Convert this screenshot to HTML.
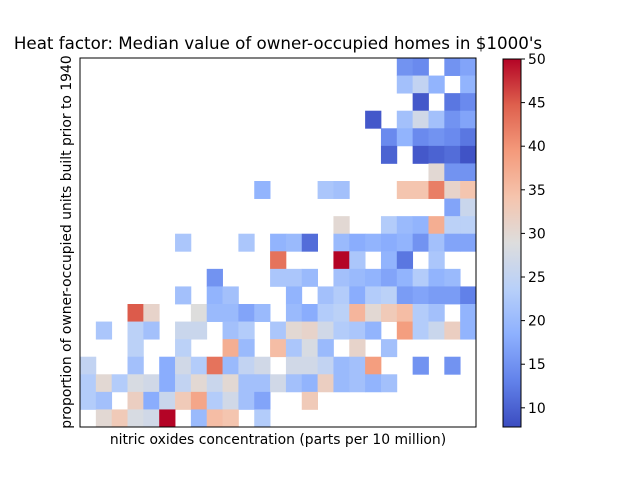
<!DOCTYPE html>
<html><head><meta charset="utf-8"><style>
body{margin:0;background:#fff;}
svg{display:block;font-family:"DejaVu Sans","Liberation Sans",sans-serif;}
</style></head><body>
<svg id="chart" width="640" height="480" viewBox="0 0 640 480">
<text x="278" y="49" text-anchor="middle" font-size="16.7" fill="#000">Heat factor: Median value of owner-occupied homes in $1000's</text>
<g id="cells"></g>
<rect x="80" y="58" width="396" height="369" fill="none" stroke="#000" stroke-width="1"/>
<text x="278" y="444" text-anchor="middle" font-size="13.9" fill="#000">nitric oxides concentration (parts per 10 million)</text>
<text transform="translate(71,242) rotate(-90)" text-anchor="middle" font-size="13.9" fill="#000">proportion of owner-occupied units built prior to 1940</text>
<defs><linearGradient id="cg" x1="0" y1="1" x2="0" y2="0"></linearGradient></defs>
<rect x="503" y="59" width="18" height="368" fill="url(#cg)" stroke="#000" stroke-width="1"/>
<g id="cbticks"></g>
</svg>
<script>
const n = null;
const xBins = Array.from({length:25},(_,i)=>i);
const yBins = Array.from({length:21},(_,i)=>i);
const row0  = [n,n,n,n,n,n,n,n,n,n,n,n,n,n,n,n,n,n,n,n,15,14,n,15,17];
const row1  = [n,n,n,n,n,n,n,n,n,n,n,n,n,n,n,n,n,n,n,n,21,25,19,n,19];
const row2  = [n,n,n,n,n,n,n,n,n,n,n,n,n,n,n,n,n,n,n,n,n,9,n,12,14];
const row3  = [n,n,n,n,n,n,n,n,n,n,n,n,n,n,n,n,n,n,9,n,21,27,21,15,17];
const row4  = [n,n,n,n,n,n,n,n,n,n,n,n,n,n,n,n,n,n,n,14,19,14,15,14,12];
const row5  = [n,n,n,n,n,n,n,n,n,n,n,n,n,n,n,n,n,n,n,10,n,9,10,11,8.5];
const row6  = [n,n,n,n,n,n,n,n,n,n,n,n,n,n,n,n,n,n,n,n,n,n,30,15,15];
const row7  = [n,n,n,n,n,n,n,n,n,n,n,19,n,n,n,22,21,n,n,n,34,34,42,31,34];
const row8  = [n,n,n,n,n,n,n,n,n,n,n,n,n,n,n,n,n,n,n,n,n,n,n,17,26];
const row9  = [n,n,n,n,n,n,n,n,n,n,n,n,n,n,n,n,30,n,n,23,20,19,37,24,24];
const row10 = [n,n,n,n,n,n,22,n,n,n,22,n,19,20,11,n,20,18,19,18,19,15,21,17,17];
const row11 = [n,n,n,n,n,n,n,n,n,n,n,n,43,n,n,n,50,22,n,19,12,n,22,n,n];
const row12 = [n,n,n,n,n,n,n,n,15,n,n,n,22,22,20,n,21,20,19,17,19,23,19,20,n];
const row13 = [n,n,n,n,n,n,21,n,19,21,n,n,n,19,n,21,23,18,23,24,16,17,16,16,13];
const row14 = [n,n,n,45,31,n,n,29,20,20,17,20,n,20,18,23,24,36,30,33,35,23,21,n,19];
const row15 = [n,22,n,24,21,n,26,26,n,21,23,n,22,30,31,27,23,22,19,n,39,23,26,32,19];
const row16 = [n,n,n,24,n,n,24,n,n,37,20,n,35,22,28,20,n,31,n,21,n,n,n,n,n];
const row17 = [25,n,n,21,n,18,27,23,43,20,25,27,n,27,27,25,20,21,39,n,n,15,n,15,n];
const row18 = [23,30,23,28,27,18,25,30,26,30,21,21,27,21,19,32,20,21,19,21,n,n,n,n,n];
const row19 = [23,21,n,32,18,26,33,38,23,27,21,17,n,n,33,n,n,n,n,n,n,n,n,n,n];
const row20 = [n,30,33,28,27,50,n,20,35,34,n,23,n,n,n,n,n,n,n,n,n,n,n,n,n];
const values = [row0,row1,row2,row3,row4,row5,row6,row7,row8,row9,row10,row11,row12,row13,row14,row15,row16,row17,row18,row19,row20];
const cbTicks = [10,15,20,25,30,35,40,45,50];

const vmin = 7.8, vmax = 50;
const X0=80, W=396, Y0=58, H=369;
const cw = W/xBins.length, ch = H/yBins.length;
const xPos = i => X0 + i*cw;
const yPos = j => Y0 + j*ch;
const anchors=[[59,76,192],[98,130,234],[141,176,254],[184,208,249],[221,221,221],[245,196,173],[244,154,123],[222,96,77],[180,4,38]];
function cmap(t){t=Math.max(0,Math.min(1,t));const p=t*8,i=Math.min(7,Math.floor(p)),f=p-i;const a=anchors[i],b=anchors[i+1];
 return `rgb(${Math.round(a[0]+(b[0]-a[0])*f)},${Math.round(a[1]+(b[1]-a[1])*f)},${Math.round(a[2]+(b[2]-a[2])*f)})`;}
const ns="http://www.w3.org/2000/svg";
const g=document.getElementById('cells');
values.forEach((row,j)=>row.forEach((v,i)=>{
  if(v===null) return;
  const r=document.createElementNS(ns,'rect');
  r.setAttribute('x',xPos(i).toFixed(2));r.setAttribute('y',yPos(j).toFixed(2));
  r.setAttribute('width',(cw+0.4).toFixed(2));r.setAttribute('height',(ch+0.4).toFixed(2));
  r.setAttribute('fill',cmap((v-vmin)/(vmax-vmin)));
  
  
  g.appendChild(r);
}));
const lg=document.getElementById('cg');
for(let k=0;k<=8;k++){const s=document.createElementNS(ns,'stop');s.setAttribute('offset',(k/8));s.setAttribute('stop-color',cmap(k/8));lg.appendChild(s);}
const cb=document.getElementById('cbticks');
const cbY=v=>427-(v-vmin)/(vmax-vmin)*368;
cbTicks.forEach(v=>{
  const y=cbY(v);
  const l=document.createElementNS(ns,'line');
  l.setAttribute('x1',521);l.setAttribute('x2',525);l.setAttribute('y1',y);l.setAttribute('y2',y);l.setAttribute('stroke','#000');
  
  
  cb.appendChild(l);
  const t=document.createElementNS(ns,'text');
  t.setAttribute('x',528);t.setAttribute('y',y+5);t.setAttribute('font-size','13.9');t.textContent=v;
  
  
  cb.appendChild(t);
});
</script>
</body></html>
